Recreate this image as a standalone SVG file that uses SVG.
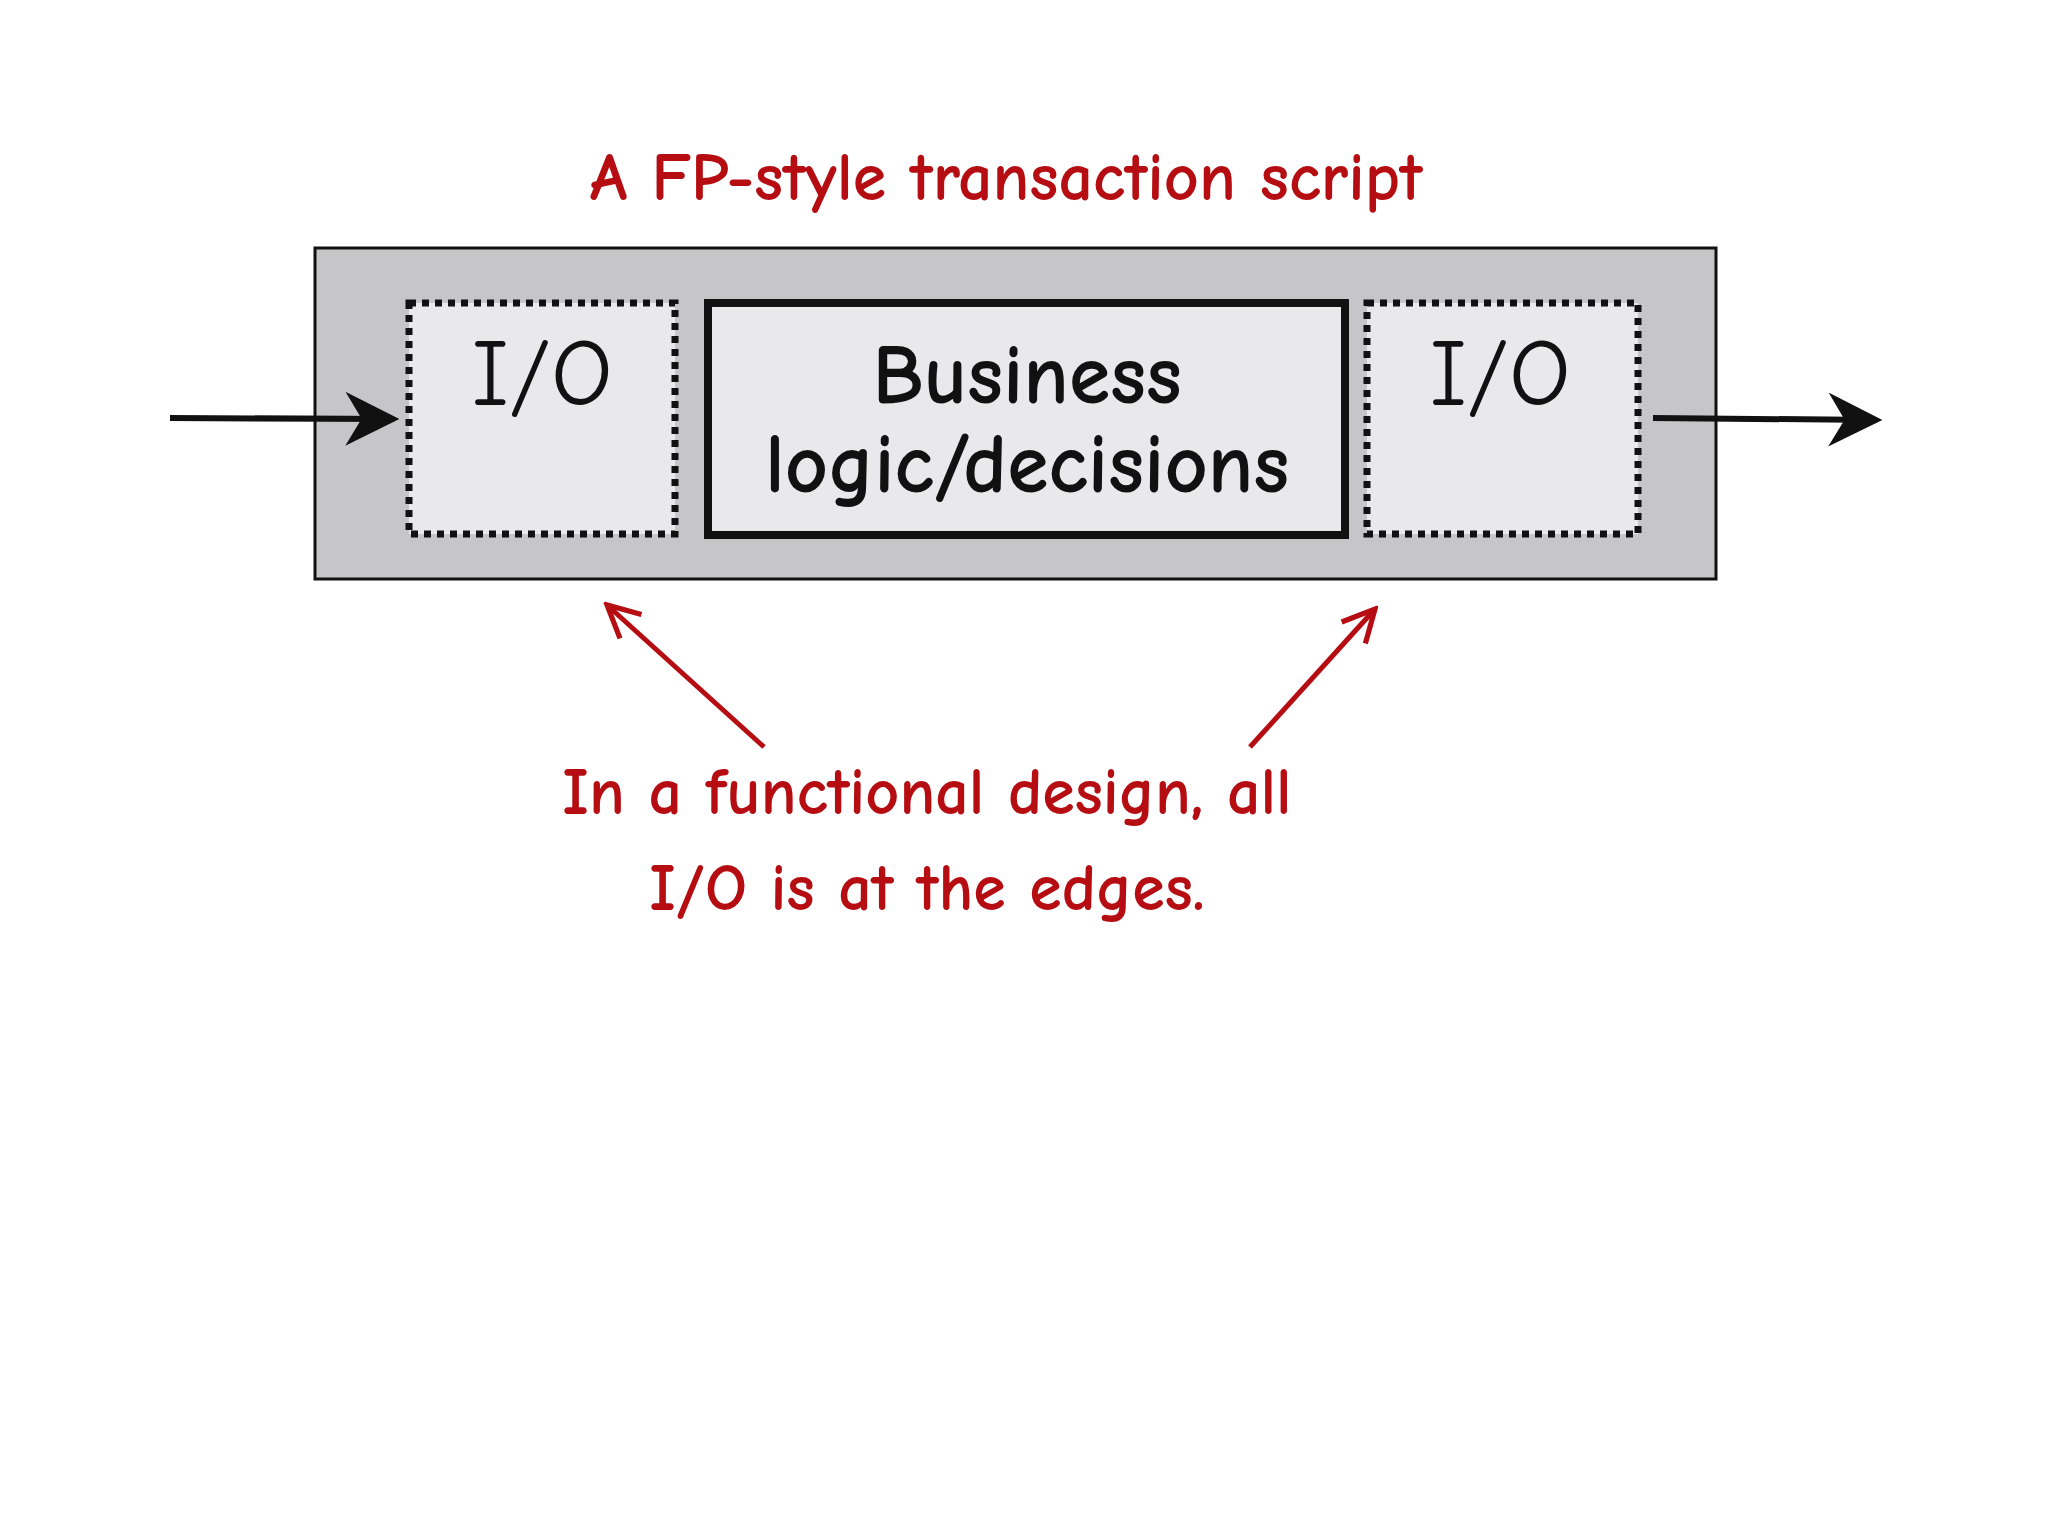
<svg xmlns="http://www.w3.org/2000/svg" width="2048" height="1536" viewBox="0 0 2048 1536">
<style>
.hand{font-family:"Comic Neue","Liberation Sans","DejaVu Sans",sans-serif}
.red{fill:#b50d12}
.blk{fill:#111}
.io{fill:#e9e8ea;stroke:#111;stroke-width:7;stroke-dasharray:7 6}
</style>
<defs>
<marker id="ab" viewBox="0 0 10 10" refX="9" refY="5" markerWidth="9" markerHeight="9" orient="auto"><path d="M0,0 L10,5 L0,10 L3,5 Z" fill="#111"/></marker>
<marker id="ar" viewBox="0 0 10 10" refX="9" refY="5" markerWidth="8" markerHeight="8" orient="auto"><path d="M1,1 L9,5 L1,9" fill="none" stroke="#b50d12" stroke-width="1.3"/></marker>
</defs>
<rect width="2048" height="1536" fill="#fff"/>
<g id="title"><text class="hand red" x="1006" y="200" font-size="68" text-anchor="middle" font-weight="bold">A FP-style transaction script</text></g>
<g id="container"><rect x="315" y="248" width="1401" height="331" fill="#c6c5c7" stroke="#111" stroke-width="3"/></g>
<g id="io-left"><rect class="io" x="409" y="303" width="266" height="231"/><text class="hand blk" x="542" y="405" font-size="96" text-anchor="middle">I/O</text></g>
<g id="logic"><rect x="708" y="303" width="637" height="232" fill="#e9e8ea" stroke="#111" stroke-width="8"/><text class="hand blk" x="1027" y="403" font-size="84" text-anchor="middle" font-weight="bold">Business</text><text class="hand blk" x="1027" y="492" font-size="84" text-anchor="middle" font-weight="bold">logic/decisions</text></g>
<g id="io-right"><rect class="io" x="1367" y="303" width="271" height="231"/><text class="hand blk" x="1500" y="405" font-size="96" text-anchor="middle">I/O</text></g>
<g id="note"><text class="hand red" x="927" y="814" font-size="66" text-anchor="middle" font-weight="bold">In a functional design, all</text><text class="hand red" x="927" y="910" font-size="66" text-anchor="middle" font-weight="bold">I/O is at the edges.</text></g>
<g id="connectors">
<line x1="170" y1="418" x2="394" y2="419" stroke="#111" stroke-width="6" marker-end="url(#ab)"/>
<line x1="1653" y1="418" x2="1877" y2="420" stroke="#111" stroke-width="6" marker-end="url(#ab)"/>
<line x1="764" y1="747" x2="607" y2="605" stroke="#b50d12" stroke-width="5" marker-end="url(#ar)"/>
<line x1="1250" y1="747" x2="1375" y2="609" stroke="#b50d12" stroke-width="5" marker-end="url(#ar)"/>
</g>
</svg>
